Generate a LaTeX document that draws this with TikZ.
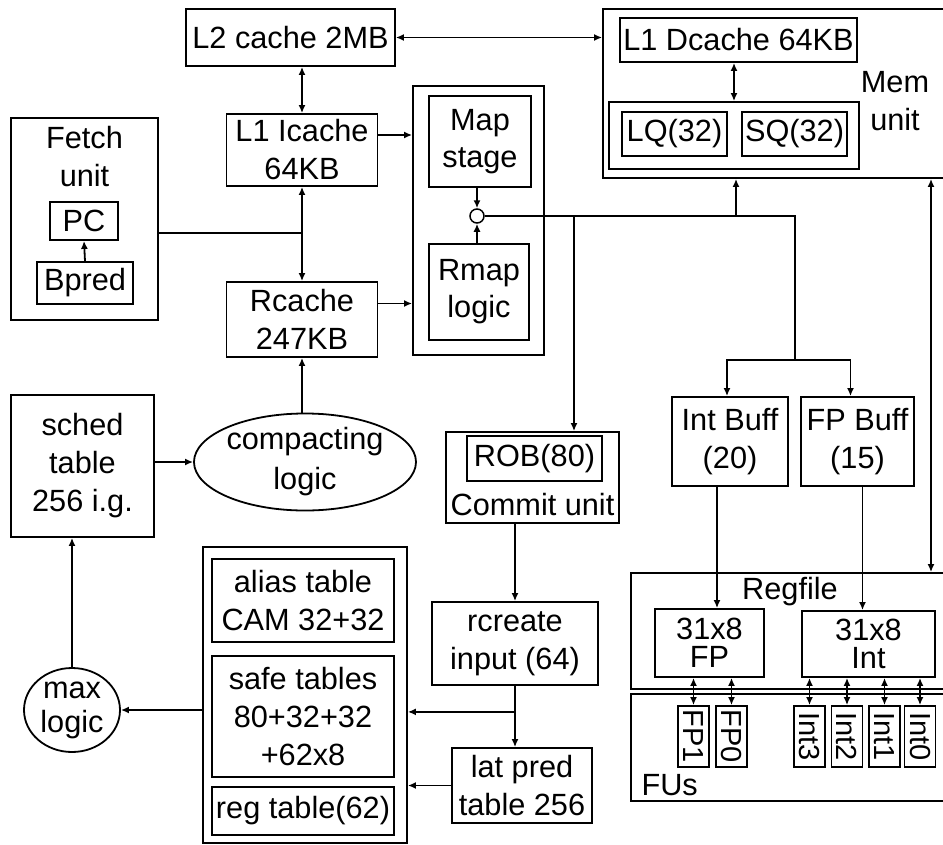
\documentclass[tikz,border=0pt]{standalone}
\usepackage{fontspec}
\setmainfont{Liberation Sans}
\usetikzlibrary{shapes.geometric, arrows.meta, calc}

\begin{document}
\begin{tikzpicture}[x=1pt, y=-1pt,
    every node/.style={font=\fontsize{30.7}{38}\selectfont},
    blk/.style={draw, line width=1.8pt, inner sep=0pt, align=center},
    oval/.style={ellipse, draw, line width=1.8pt, inner sep=0pt, align=center},
    fubox/.style={blk, rotate=-90, minimum width=61pt, minimum height=31pt},
    arr/.style={-{Latex[length=8pt,width=7pt]}, line width=1.8pt},
    dbl/.style={{Latex[length=8pt,width=7pt]}-{Latex[length=8pt,width=7pt]}, line width=1.8pt},
    wire/.style={line width=1.8pt}
  ]
  \useasboundingbox (0,0) rectangle (943,844);

  % caches
  \node[blk, minimum width=209pt, minimum height=57pt] (l2) at (290.5,37.5) {L2 cache 2MB};
  \node[blk, minimum width=151pt, minimum height=72pt] (l1i) at (302,150) {L1 Icache\\64KB};
  \node[blk, minimum width=151pt, minimum height=75pt] (rc) at (302,319.5) {Rcache\\247KB};

  % mem unit
  \node[blk, minimum width=357pt, minimum height=169pt] (mem) at (781.5,93.5) {};
  \node[blk, minimum width=237pt, minimum height=44pt] (l1d) at (738.5,40) {L1 Dcache 64KB};
  \node[blk, minimum width=250pt, minimum height=67pt] (lsq) at (734,135.5) {};
  \node[blk, minimum width=105pt, minimum height=44pt] (lq) at (674.5,134) {LQ(32)};
  \node[blk, minimum width=105pt, minimum height=44pt] (sq) at (794.5,134) {SQ(32)};
  \node[align=center] (memlbl) at (895,101) {Mem\\unit};

  % fetch unit
  \node[blk, minimum width=147pt, minimum height=202pt] (fetch) at (84.5,219) {};
  \node[align=center] (fetchlbl) at (84.5,157) {Fetch\\unit};
  \node[blk, minimum width=68pt, minimum height=38pt] (pc) at (84,221) {PC};
  \node[blk, minimum width=96pt, minimum height=42pt] (bp) at (85,283) {Bpred};

  % map stage
  \node[blk, minimum width=131pt, minimum height=269pt] (mapu) at (478.5,220.5) {};
  \node[blk, minimum width=102pt, minimum height=91pt,
        font=\fontsize{30.7}{37}\selectfont] (map) at (480,141.5) {Map\\stage};
  \node[blk, minimum width=100pt, minimum height=96pt,
        font=\fontsize{30.7}{37}\selectfont] (rmap) at (479,292) {Rmap\\logic};
  \node[circle, draw, line width=1.5pt, minimum size=14pt, inner sep=0pt] (join) at (477,216) {};

  % scheduling
  \node[blk, minimum width=143pt, minimum height=142pt] (sched) at (82.5,466) {sched\\table\\256 i.g.};
  \node[oval, minimum width=184pt, minimum height=90pt,
        font=\fontsize{30.7}{40}\selectfont] (cmp) at (305,462) {compacting\\logic};
  \node[oval, minimum width=96pt, minimum height=84pt,
        font=\fontsize{30.7}{34}\selectfont] (mx) at (72,710) {max\\logic};

  % tables
  \node[blk, minimum width=204pt, minimum height=296pt] (tbl) at (305,695) {};
  \node[blk, minimum width=182pt, minimum height=83pt] (alias) at (303,600.5) {alias table\\CAM 32+32};
  \node[blk, minimum width=182pt, minimum height=121pt] (safe) at (303,716.5) {safe tables\\80+32+32\\+62x8};
  \node[blk, minimum width=182pt, minimum height=48pt] (regt) at (303,811) {reg table(62)};

  % commit
  \node[blk, minimum width=173pt, minimum height=91pt] (rob) at (532.5,477.5) {};
  \node[blk, minimum width=135pt, minimum height=45pt] (robq) at (534.5,458.5) {ROB(80)};
  \node (commit) at (532.5,505) {Commit unit};
  \node[blk, minimum width=166pt, minimum height=83pt] (rcr) at (515,643.5) {rcreate\\input (64)};
  \node[blk, minimum width=140pt, minimum height=75pt] (lat) at (522,785.5) {lat pred\\table 256};

  % issue buffers
  \node[blk, minimum width=116pt, minimum height=89pt] (ib) at (730,441.5) {Int Buff\\(20)};
  \node[blk, minimum width=113pt, minimum height=89pt] (fb) at (857.5,441.5) {FP Buff\\(15)};

  % regfile and FUs
  \node[blk, minimum width=329pt, minimum height=116pt] (rf) at (795.5,631) {};
  \node (rflbl) at (790,592) {Regfile};
  \node[blk, minimum width=109pt, minimum height=68pt,
        font=\fontsize{30.7}{28}\selectfont] (rfp) at (709.5,643) {31x8\\FP};
  \node[blk, minimum width=133pt, minimum height=66pt,
        font=\fontsize{30.7}{28}\selectfont] (rint) at (868.5,644) {31x8\\Int};
  \node[blk, minimum width=329pt, minimum height=107pt] (fu) at (795.5,747.5) {};
  \node[anchor=west] (fulbl) at (638,785) {FUs};
  \foreach \nm/\x in {FP1/693.5, FP0/731.5, Int3/809.5, Int2/847, Int1/884.5, Int0/920}
    \node[fubox, font=\fontsize{29}{34}\selectfont] (u\nm) at (\x,736.5) {\nm};

  % cache connections
  \draw[dbl] (l2.east) -- (l2.east -| mem.west);
  \draw[dbl] (l2.south -| l1i.north) -- (l1i.north);
  \draw[dbl] (lsq.north |- l1d.south) -- (lsq.north);
  \draw[dbl] (l1i.south) -- (rc.north);
  \coordinate (fj) at (302,233);
  \draw[wire] (fetch.east |- fj) -- (fj);
  \draw[arr] (bp.north) -- (pc.south);
  \draw[arr] ([yshift=15pt]l1i.east) -- ([yshift=15pt]l1i.east -| mapu.west);
  \draw[arr] ([yshift=16pt]rc.east) -- ([yshift=16pt]rc.east -| mapu.west);
  \draw[arr] (map.south -| join.north) -- (join.north);
  \draw[arr] (rmap.north -| join.south) -- (join.south);

  % compacting and sched
  \draw[arr] (rc.south |- cmp.north) -- (rc.south);
  \draw[arr] (sched.east |- cmp.west) -- (cmp.west);
  \draw[arr] (mx.north) -- (mx.north |- sched.south);
  \draw[arr] (tbl.west |- mx.east) -- (mx.east);

  % rename bus
  \coordinate (j1) at (574,216);
  \coordinate (j2) at (736,216);
  \coordinate (j3) at (795,216);
  \coordinate (j4) at (795,360);
  \draw[wire] (join.east) -- (j3) -- (j4);
  \draw[arr] (j1) -- (j1 |- rob.north);
  \draw[arr] (j2) -- (j2 |- mem.south);
  \draw[arr] (j4) -| ([xshift=-3pt]ib.north);
  \draw[arr] (j4) -| ([xshift=-7pt]fb.north);

  % commit path
  \draw[arr] (rcr.north |- rob.south) -- (rcr.north);
  \draw[arr] (rcr.south) -- (rcr.south |- lat.north);
  \coordinate (rj) at ($(rcr.south)+(0,26)$);
  \draw[arr] (rj) -- (rj -| tbl.east);
  \draw[arr] (lat.west) -- (lat.west -| tbl.east);

  % buffers to regfile
  \draw[arr] ([xshift=-13pt]ib.south) -- ([xshift=-13pt]ib.south |- rfp.north);
  \draw[arr] ([xshift=5pt]fb.south) -- ([xshift=5pt]fb.south |- rint.north);
  \coordinate (mrx) at (931,0);
  \draw[dbl] (mem.south -| mrx) -- (rf.north -| mrx);

  % regfile to FUs
  \foreach \nm in {FP1, FP0}
    \draw[dbl] (u\nm.west) -- (u\nm.west |- rfp.south);
  \foreach \nm in {Int3, Int2, Int1, Int0}
    \draw[dbl] (u\nm.west) -- (u\nm.west |- rint.south);
\end{tikzpicture}
\end{document}
